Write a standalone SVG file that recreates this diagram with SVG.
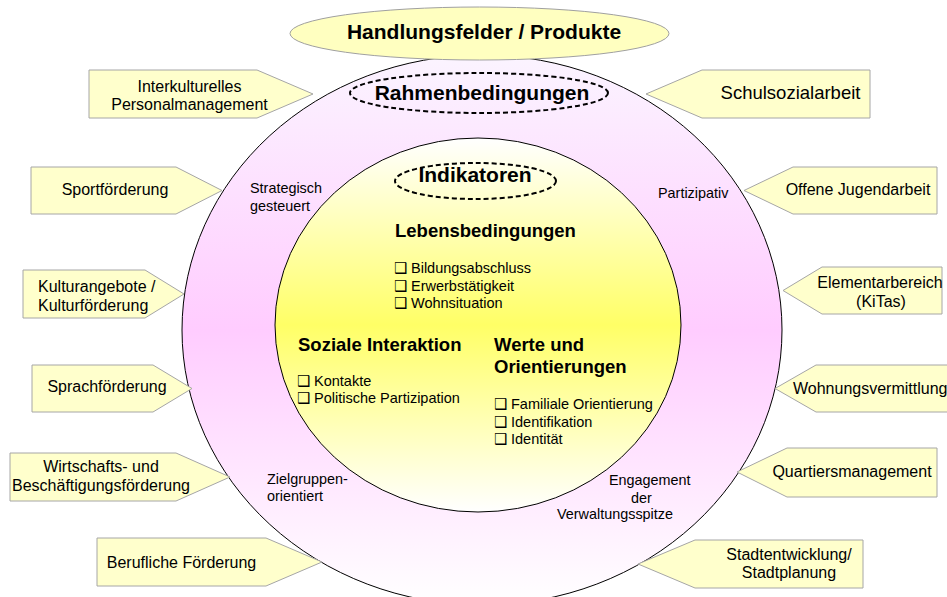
<svg xmlns="http://www.w3.org/2000/svg" width="947" height="597" viewBox="0 0 947 597">
<defs>
<linearGradient id="gOuter" x1="0" y1="0" x2="0" y2="1">
<stop offset="0" stop-color="#FBF4FF"/>
<stop offset="0.5" stop-color="#FFCCFF"/>
<stop offset="1" stop-color="#FFFFFF"/>
</linearGradient>
<linearGradient id="gInner" x1="0" y1="0" x2="0" y2="1">
<stop offset="0" stop-color="#FFFFFF"/>
<stop offset="0.5" stop-color="#FFFF66"/>
<stop offset="1" stop-color="#FFFFFF"/>
</linearGradient>
<style>
text{font-family:"Liberation Sans",Arial,sans-serif;fill:#000}
.pent{fill:#FFFFCC;stroke:#A6A6A6;stroke-width:1}
.lbl{font-size:16px}
.lblc{font-size:16px;text-anchor:middle}
.ring{font-size:14.4px}
.head{font-size:21px;font-weight:bold;text-anchor:middle}
.sub{font-size:18.5px;font-weight:bold}
.item{font-size:14.5px}
.bx{font-family:"DejaVu Sans",sans-serif;font-size:15px;font-weight:bold}
.dash{fill:none;stroke:#000;stroke-width:2;stroke-dasharray:5 3}
</style>
</defs>

<g id="outer-circle">
<ellipse cx="482" cy="330" rx="300" ry="275" fill="url(#gOuter)" stroke="#000" stroke-width="1"/>
<text class="ring" x="250" y="193">Strategisch</text>
<text class="ring" x="250" y="211">gesteuert</text>
<text class="ring" x="658" y="198">Partizipativ</text>
<text class="ring" x="267" y="484">Zielgruppen-</text>
<text class="ring" x="267" y="501">orientiert</text>
<text class="ring" x="609" y="485">Engagement</text>
<text class="ring" x="631" y="503">der</text>
<text class="ring" x="557" y="519">Verwaltungsspitze</text>
</g>

<g id="rahmenbedingungen">
<ellipse class="dash" cx="479" cy="93" rx="129" ry="20"/>
<text class="head" x="482" y="100">Rahmenbedingungen</text>
</g>

<g id="inner-circle">
<ellipse cx="478" cy="325" rx="203" ry="187" fill="url(#gInner)" stroke="#000" stroke-width="1"/>
</g>

<g id="indikatoren">
<ellipse class="dash" cx="475.5" cy="181" rx="80.5" ry="18"/>
<text class="head" x="475" y="182">Indikatoren</text>
</g>

<g id="lebensbedingungen">
<text class="sub" x="395" y="237">Lebensbedingungen</text>
<text class="item" y="273"><tspan class="bx" x="394">❑</tspan><tspan x="411">Bildungsabschluss</tspan></text>
<text class="item" y="290.5"><tspan class="bx" x="394">❑</tspan><tspan x="411">Erwerbstätigkeit</tspan></text>
<text class="item" y="308"><tspan class="bx" x="394">❑</tspan><tspan x="411">Wohnsituation</tspan></text>
</g>

<g id="soziale-interaktion">
<text class="sub" x="298" y="350.5">Soziale Interaktion</text>
<text class="item" y="385.5"><tspan class="bx" x="297">❑</tspan><tspan x="314">Kontakte</tspan></text>
<text class="item" y="403"><tspan class="bx" x="297">❑</tspan><tspan x="314">Politische Partizipation</tspan></text>
</g>

<g id="werte-orientierungen">
<text class="sub" x="494" y="350.5">Werte und</text>
<text class="sub" x="494" y="373">Orientierungen</text>
<text class="item" y="409"><tspan class="bx" x="494">❑</tspan><tspan x="511">Familiale Orientierung</tspan></text>
<text class="item" y="426.5"><tspan class="bx" x="494">❑</tspan><tspan x="511">Identifikation</tspan></text>
<text class="item" y="444"><tspan class="bx" x="494">❑</tspan><tspan x="511">Identität</tspan></text>
</g>

<g id="handlungsfelder">
<ellipse cx="479.5" cy="33.5" rx="189.5" ry="26.5" fill="#FFFFC0" stroke="#A0A0A0" stroke-width="1"/>
<text class="head" x="484" y="39">Handlungsfelder / Produkte</text>
</g>

<g id="connectors"></g>

<g id="interkulturelles">
<polygon class="pent" points="89,70 257,70 313,94 257,118 89,118"/>
<text class="lblc" x="189.5" y="92">Interkulturelles</text>
<text class="lblc" x="189.5" y="110">Personalmanagement</text>
</g>
<g id="sport">
<polygon class="pent" points="31,167 176,167 222,190.5 176,214 31,214"/>
<text class="lblc" x="115" y="195">Sportförderung</text>
</g>
<g id="kultur">
<polygon class="pent" points="23,270 145,270 184,294 145,318 23,318"/>
<text class="lbl" x="38" y="292">Kulturangebote /</text>
<text class="lbl" x="38" y="311">Kulturförderung</text>
</g>
<g id="sprache">
<polygon class="pent" points="32,365 153,365 192,388.5 153,412 32,412"/>
<text class="lblc" x="107" y="392">Sprachförderung</text>
</g>
<g id="wirtschaft">
<polygon class="pent" points="10,453 176,453 230,477 176,501 10,501"/>
<text class="lblc" x="101" y="472">Wirtschafts- und</text>
<text class="lblc" x="101" y="491">Beschäftigungsförderung</text>
</g>
<g id="beruf">
<polygon class="pent" points="97,538 266,538 322,562 266,586 97,586"/>
<text class="lblc" x="181.5" y="568">Berufliche Förderung</text>
</g>

<g id="schulsozialarbeit">
<polygon class="pent" points="646,94 702,70 870,70 870,118 702,118"/>
<text class="lblc" x="790.5" y="99" style="font-size:18.5px">Schulsozialarbeit</text>
</g>
<g id="jugendarbeit">
<polygon class="pent" points="744,190.5 793,167 937,167 937,214 793,214"/>
<text class="lblc" x="858" y="195">Offene Jugendarbeit</text>
</g>
<g id="elementarbereich">
<polygon class="pent" points="783,290.5 822,267 942,267 942,314 822,314"/>
<text class="lblc" x="880" y="288">Elementarbereich</text>
<text class="lblc" x="881" y="307">(KiTas)</text>
</g>
<g id="wohnung">
<polygon class="pent" points="775,388.5 816,365 960,365 960,412 816,412"/>
<text class="lbl" x="793" y="394">Wohnungsvermittlung</text>
</g>
<g id="quartier">
<polygon class="pent" points="737,472 787,448 937,448 937,497 787,497"/>
<text class="lblc" x="852" y="477">Quartiersmanagement</text>
</g>
<g id="stadt">
<polygon class="pent" points="638,564 695,540 863,540 863,588 695,588"/>
<text class="lblc" x="789" y="560">Stadtentwicklung/</text>
<text class="lblc" x="789" y="578">Stadtplanung</text>
</g>
</svg>
